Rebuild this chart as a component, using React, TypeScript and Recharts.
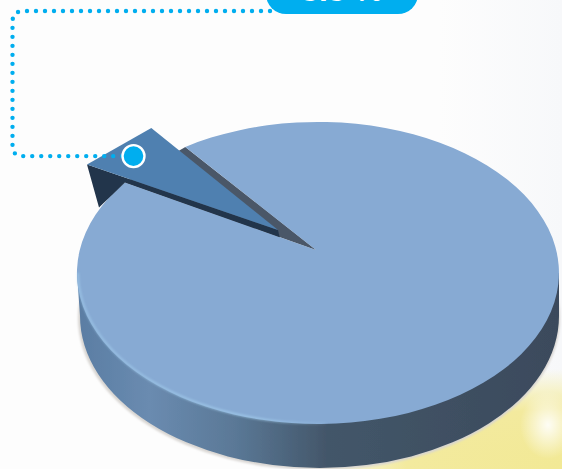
import React from "react";
import { PieChart, Pie } from "recharts";

const names = ["Remainder", "Highlighted share"];
const shares = [94.5, 5.5];
const sliceColors = ["#87aad3", "#4f80b0"];
const calloutText = "5.5 %";

const chartData = names.map((name, i) => ({ name, value: shares[i], fill: sliceColors[i] }));

const W = 562;
const H = 469;
const SQUASH = 151 / 241;
const DEPTH = 43;
const APEX_LIFT = 23;
const APEX_SHIFT = -2;
const EXPLODE_X = -38;
const EXPLODE_Y = -20;
const CYAN = "#00aeef";

const rad = (d: number) => (d * Math.PI) / 180;
const rim = (cx: number, cy: number, r: number, a: number) => ({
  x: cx + r * Math.cos(rad(a)),
  y: cy - r * SQUASH * Math.sin(rad(a)),
});
const apexOf = (cx: number, cy: number) => ({ x: cx + APEX_SHIFT, y: cy - APEX_LIFT });
const pt = (p: { x: number; y: number }) => `${p.x.toFixed(1)} ${p.y.toFixed(1)}`;

function SliceShape(props: any) {
  const { cx, cy, outerRadius: r, startAngle, endAngle, fill, index } = props;
  const ry = r * SQUASH;
  const apex = apexOf(cx, cy);
  const a = rim(cx, cy, r, startAngle);
  const b = rim(cx, cy, r, endAngle);
  if (index === 0) {
    const top = `M ${pt(apex)} L ${pt(a)} A ${r} ${ry} 0 1 1 ${pt(b)} Z`;
    const left = rim(cx, cy, r, 180);
    const right = rim(cx, cy, r, 0);
    const wall = `M ${pt(left)} L ${left.x + 3} ${left.y + DEPTH} A ${r - 3} ${ry} 0 0 0 ${right.x} ${right.y + DEPTH} L ${pt(right)} Z`;
    const hlStart = rim(cx, cy, r - 1, 180);
    const hlEnd = rim(cx, cy, r - 1, 272);
    return (
      <g>
        <defs>
          <linearGradient id="wallGrad" gradientUnits="userSpaceOnUse" x1={cx - r} y1="0" x2={cx + r} y2="0">
            <stop offset="0" stopColor="#5a7da3" />
            <stop offset="0.15" stopColor="#6a8bb0" />
            <stop offset="0.33" stopColor="#5a7896" />
            <stop offset="0.52" stopColor="#435669" />
            <stop offset="1" stopColor="#3b4a5c" />
          </linearGradient>
          <linearGradient id="hlGrad" gradientUnits="userSpaceOnUse" x1={cx - r} y1="0" x2={cx + 20} y2="0">
            <stop offset="0" stopColor="#a8d4f2" stopOpacity="0.55" />
            <stop offset="0.7" stopColor="#a8d4f2" stopOpacity="0.7" />
            <stop offset="1" stopColor="#a8d4f2" stopOpacity="0" />
          </linearGradient>
          <filter id="soft" x="-5%" y="-5%" width="110%" height="110%">
            <feGaussianBlur stdDeviation="1.2" />
          </filter>
          <filter id="softer" x="-5%" y="-5%" width="110%" height="110%">
            <feGaussianBlur stdDeviation="0.7" />
          </filter>
        </defs>
        <ellipse cx={cx + 1} cy={cy + DEPTH + 2} rx={r} ry={ry + 1} fill="#d8d5d2" filter="url(#soft)" />
        <path d={wall} fill="url(#wallGrad)" filter="url(#softer)" />
        <path d={`M ${pt(apex)} L ${pt(a)} L ${pt(b)} Z`} fill="#4a5768" />
        <path d={top} fill={fill} filter="url(#softer)" />
        <path
          d={`M ${pt(hlStart)} A ${r - 1} ${ry} 0 0 0 ${pt(hlEnd)}`}
          fill="none"
          stroke="url(#hlGrad)"
          strokeWidth={2}
          filter="url(#soft)"
        />
      </g>
    );
  }
  // exploded slice: a = rim at its lower edge, b = rim at its upper edge
  const oa = { x: a.x + EXPLODE_X, y: a.y + EXPLODE_Y + 2 };
  const ob = { x: b.x + EXPLODE_X + 4, y: b.y + EXPLODE_Y + 1 };
  const oApex = { x: apex.x + EXPLODE_X, y: apex.y + EXPLODE_Y };
  const inner = { x: apex.x + (a.x - apex.x) * 0.19, y: apex.y + (a.y - apex.y) * 0.19 };
  const wallFoot = { x: oa.x + 12, y: oa.y + DEPTH };
  return (
    <g filter="url(#softer)">
      <path d={`M ${pt(oa)} L ${pt(oApex)} L ${pt(inner)} L ${pt(a)} L ${pt(wallFoot)} Z`} fill="#24364c" />
      <path d={`M ${pt(oApex)} L ${pt(oa)} L ${pt(ob)} Z`} fill={fill} />
    </g>
  );
}

function renderCallout(props: any) {
  const { cx, cy, outerRadius: r, midAngle, index } = props;
  if (index !== 1) return null;
  const apex = apexOf(cx, cy);
  const m = rim(cx, cy, r, midAngle);
  const t = 0.885;
  const ox = apex.x + EXPLODE_X;
  const oy = apex.y + EXPLODE_Y;
  const dx = ox + (m.x + EXPLODE_X - ox) * t;
  const dy = oy + (m.y + EXPLODE_Y - oy) * t + 3;
  const bubbleLeft = 266;
  const bubbleRight = 418;
  const bubbleBottom = 14;
  const lineY = 11;
  const lineX = 12.5;
  return (
    <g>
      <path
        d={`M ${bubbleLeft + 4} ${lineY} H 24 Q ${lineX} ${lineY} ${lineX} 22 V ${dy - 10} Q ${lineX} ${dy} 23 ${dy} H ${dx - 8}`}
        fill="none"
        stroke={CYAN}
        strokeWidth={4.4}
        strokeLinecap="round"
        strokeDasharray="0 9"
      />
      <circle cx={dx} cy={dy} r={11} fill={CYAN} stroke="#fff" strokeWidth={2.4} />
      <rect x={bubbleLeft} y={-30} width={bubbleRight - bubbleLeft} height={30 + bubbleBottom} rx={20} fill={CYAN} />
      <text
        x={(bubbleLeft + bubbleRight) / 2}
        y={1}
        textAnchor="middle"
        fill="#fff"
        fontSize={32}
        fontWeight={700}
        fontFamily="Liberation Sans, sans-serif"
      >
        {calloutText}
      </text>
    </g>
  );
}

const background = [
  "radial-gradient(ellipse 28px 34px at 548px 425px, rgba(255,255,255,0.9), rgba(255,255,255,0) 100%)",
  "radial-gradient(ellipse 260px 100px at 100% 100%, #f2e995 0%, #f3ea9e 60%, rgba(246,241,190,0.75) 80%, rgba(253,252,240,0) 100%)",
  "linear-gradient(90deg, #fdfdfd 0%, #fdfdfd 78%, #f7f8fa 100%)",
].join(",");

export default function App() {
  return (
    <div style={{ position: "absolute", left: 0, top: 0, width: W, height: H, overflow: "hidden", background }}>
      <PieChart width={W} height={H} margin={{ top: 0, right: 0, bottom: 0, left: 0 }}>
        <Pie
          data={chartData}
          dataKey="value"
          nameKey="name"
          cx={318}
          cy={273}
          innerRadius={0}
          outerRadius={241}
          startAngle={123.4}
          endAngle={-236.6}
          paddingAngle={0}
          stroke="none"
          shape={SliceShape}
          label={renderCallout}
          labelLine={false}
          isAnimationActive={false}
        />
      </PieChart>
    </div>
  );
}
